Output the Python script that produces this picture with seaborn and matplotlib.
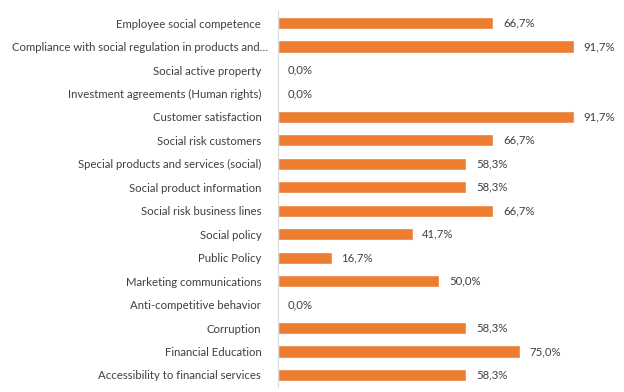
import matplotlib
matplotlib.use("Agg")
import matplotlib.pyplot as plt
import seaborn as sns
import pandas as pd

categories = [
    "Employee social competence",
    "Compliance with social regulation in products and\u2026",
    "Social active property",
    "Investment agreements (Human rights)",
    "Customer satisfaction",
    "Social risk customers",
    "Special products and services (social)",
    "Social product information",
    "Social risk business lines",
    "Social policy",
    "Public Policy",
    "Marketing communications",
    "Anti-competitive behavior",
    "Corruption",
    "Financial Education",
    "Accessibility to financial services",
]
values = [66.7, 91.7, 0.0, 0.0, 91.7, 66.7, 58.3, 58.3, 66.7,
          41.7, 16.7, 50.0, 0.0, 58.3, 75.0, 58.3]

df = pd.DataFrame({"category": categories, "value": values})

sns.set_theme(style="white")
plt.rcParams["font.family"] = ["Lato", "DejaVu Sans"]
text_color = "#404040"

fig = plt.figure(figsize=(6.24, 3.92), dpi=100)
ax = fig.add_axes([0.4455, 0.0135, 0.5175, 0.9575])

sns.barplot(data=df, x="value", y="category", color="#ED7D31",
            saturation=1, width=0.52, ax=ax)

for i, v in enumerate(values):
    label = f"{v:.1f}%".replace(".", ",")
    ax.text(v + 3.0, i, label, va="center", ha="left",
            fontsize=8.2, color=text_color)

ax.set_xlim(0, 100)
ax.set_ylim(len(categories) - 0.5, -0.5)
ax.set_xlabel("")
ax.set_ylabel("")
ax.set_xticks([])
ax.tick_params(axis="y", length=0, pad=12, labelsize=8.2, labelcolor=text_color)
# the truncated label sits a bit closer to the axis, as in the source
ax.get_yticklabels()[1].set_x(0.02)
for side in ["top", "right", "bottom"]:
    ax.spines[side].set_visible(False)
ax.spines["left"].set_color("#D9D9D9")
ax.spines["left"].set_linewidth(0.8)

fig.savefig("out.png", dpi=100)
